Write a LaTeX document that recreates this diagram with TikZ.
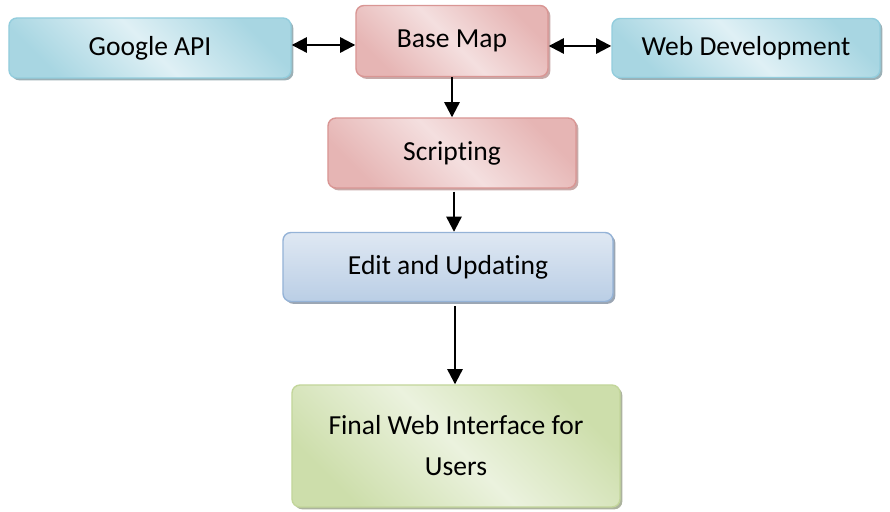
\documentclass[tikz,border=0pt]{standalone}
\usepackage{fontspec}
\setmainfont[Ligatures={NoCommon}]{Carlito}
\usepackage{xcolor}
\usepackage{tikz}
\usetikzlibrary{
  arrows.meta,
  calc,
  shadows
}
\definecolor{blueline}{HTML}{93CDDD}
\definecolor{bluedark}{HTML}{A8D6E2}
\definecolor{bluelight}{HTML}{DFF0F5}
\definecolor{redline}{HTML}{D99694}
\definecolor{reddark}{HTML}{E6B5B4}
\definecolor{redlight}{HTML}{F4DFDF}
\definecolor{steelline}{HTML}{95B3D7}
\definecolor{steeldark}{HTML}{BACEE5}
\definecolor{steellight}{HTML}{DFE8F3}
\definecolor{greenline}{HTML}{C3D69B}
\definecolor{greendark}{HTML}{CDDEAB}
\definecolor{greenlight}{HTML}{EBF2DE}
\tikzset{
  box/.style={
    rounded corners=0.24cm,
    line width=1.2pt,
    font=\fontsize{23.5}{35}\selectfont,
    align=center,
    inner sep=0pt},
  bluebox/.style={box, draw=blueline,
    left color=bluedark, right color=bluedark, middle color=bluelight,
    shading angle=-45,
    drop shadow={shadow xshift=0.07cm, shadow yshift=-0.07cm,
      fill=blueline!60!black, opacity=0.6}},
  redbox/.style={box, draw=redline,
    left color=reddark, right color=reddark, middle color=redlight,
    shading angle=-45,
    drop shadow={shadow xshift=0.07cm, shadow yshift=-0.07cm,
      fill=redline!75!black, opacity=0.6}},
  steelbox/.style={box, draw=steelline,
    top color=steellight, bottom color=steeldark,
    drop shadow={shadow xshift=0.07cm, shadow yshift=-0.07cm,
      fill=steelline!60!black, opacity=0.6}},
  greenbox/.style={box, draw=greenline,
    left color=greendark, right color=greendark, middle color=greenlight,
    shading angle=-45,
    drop shadow={shadow xshift=0.07cm, shadow yshift=-0.07cm,
      fill=greenline!60!black, opacity=0.6}},
  flow/.style={
    line width=2pt,
    -{Triangle[length=13pt,width=13pt]}},
  twoway/.style={
    line width=2pt,
    {Triangle[length=13pt,width=13pt]}-{Triangle[length=13pt,width=13pt]}}
  }

\begin{document}
\begin{tikzpicture}[x=0.03cm,y=-0.03cm]
      \useasboundingbox (0,0) rectangle (890,512);
      \node[bluebox, minimum width=8.46cm, minimum height=1.8cm] (gapi) at (150,48) {Google API};
      \node[redbox, minimum width=5.76cm, minimum height=2.13cm] (base) at (452,41) {Base Map};
      \node[bluebox, minimum width=8.04cm, minimum height=1.77cm] (web) at (746,48) {Web Development};
      \node[redbox, minimum width=7.44cm, minimum height=2.1cm] (script) at (452,153) {Scripting};
      \node[steelbox, minimum width=9.9cm, minimum height=2.07cm] (edit) at (448,267) {Edit and Updating};
      \node[greenbox, minimum width=9.84cm, minimum height=3.66cm] (final) at (456,446) {Final Web Interface for\\Users};
      \draw [twoway]
      (gapi.east |- 0,45) -- (base.west |- 0,45);
      \draw [twoway]
      (base.east |- 0,46) -- (web.west |- 0,46);
      \draw [flow]
      (base.south) -- (base.south |- script.north);
      \draw [flow]
      ($(script.south)+(2,3)$) -- ($(script.south |- edit.north)+(2,0)$);
      \draw [flow]
      ($(edit.south)+(7,4)$) -- ($(edit.south |- final.north)+(7,0)$);
    \end{tikzpicture}
\end{document}
